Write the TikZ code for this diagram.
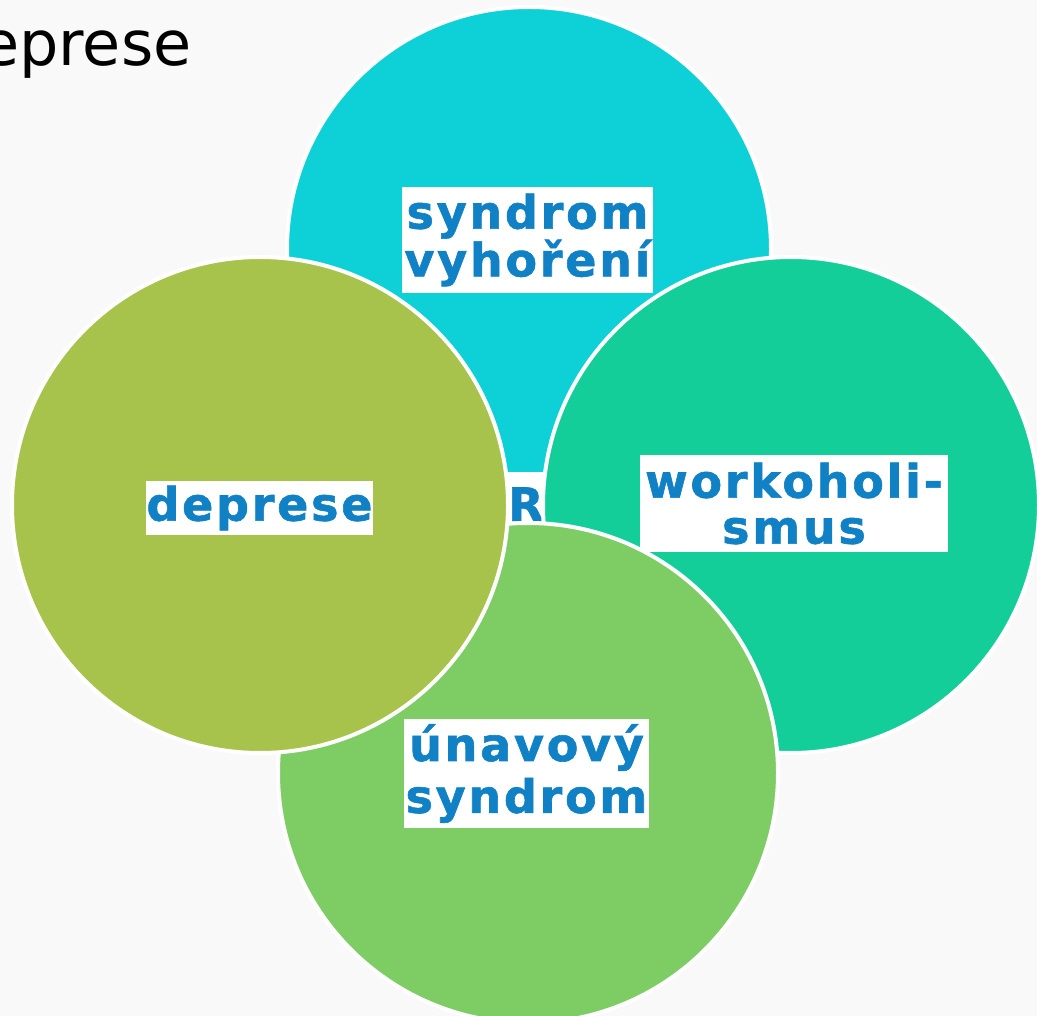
\documentclass[tikz,border=0pt]{standalone}
\usepackage{fontspec}
\setmainfont{DejaVu Sans}
\newfontfamily\lblfont[LetterSpace=6,FakeBold=1.3]{DejaVu Sans Bold}
\definecolor{bgcol}{HTML}{F9F9F9}
\definecolor{lblblue}{HTML}{1181C6}
\definecolor{ccyan}{HTML}{0ED1D8}
\definecolor{cteal}{HTML}{13CE98}
\definecolor{cgreen}{HTML}{7ECC64}
\definecolor{colive}{HTML}{A8C34C}
\tikzset{
  disc/.style={circle, draw=white, line width=4pt, inner sep=0pt, minimum size=#1},
  lblstyle/.style={text=lblblue, font=\lblfont\fontsize{46}{43}\selectfont},
  tagbox/.style={lblstyle, fill=white, inner sep=0pt, align=center},
}
\begin{document}
\begin{tikzpicture}[x=1pt,y=-1pt]
  \useasboundingbox (0,0) rectangle (1037,1016);
  \fill[bgcol] (0,0) rectangle (1037,1016);

  % slide title, cut at the left edge
  \node[anchor=base west, inner sep=0pt, font=\fontsize{62}{62}\selectfont] (title) at (-19,66) {eprese};

  % top circle
  \node[disc=484pt, fill=ccyan] (top) at (529,249) {};
  \node[tagbox, minimum width=251pt, minimum height=106pt] (topbox) at (527.5,240) {syndrom\\vyhoření};

  % centre label, mostly covered by the other circles
  \node[fill=white, minimum width=44pt, minimum height=60pt, inner sep=0pt] (ctrbox) at (527,502) {};
  \node[lblstyle, anchor=base west, inner sep=0pt] (ctr) at (508,521) {R};

  % right circle
  \node[disc=496pt, fill=cteal] (right) at (791,505) {};
  \node[tagbox, minimum width=308pt, minimum height=97pt] (rightbox) at (794,503.5) {workoholi-\\[3pt]smus};

  % bottom circle
  \node[disc=500pt, fill=cgreen] (bottom) at (528,773) {};
  \node[tagbox, minimum width=245pt, minimum height=109pt] (bottombox) at (526.5,773.5) {únavový\\[6pt]syndrom};

  % left circle
  \node[disc=496pt, fill=colive] (left) at (260,505) {};
  \node[tagbox, minimum width=227pt, minimum height=54pt] (leftbox) at (259.5,508) {deprese};
\end{tikzpicture}
\end{document}
